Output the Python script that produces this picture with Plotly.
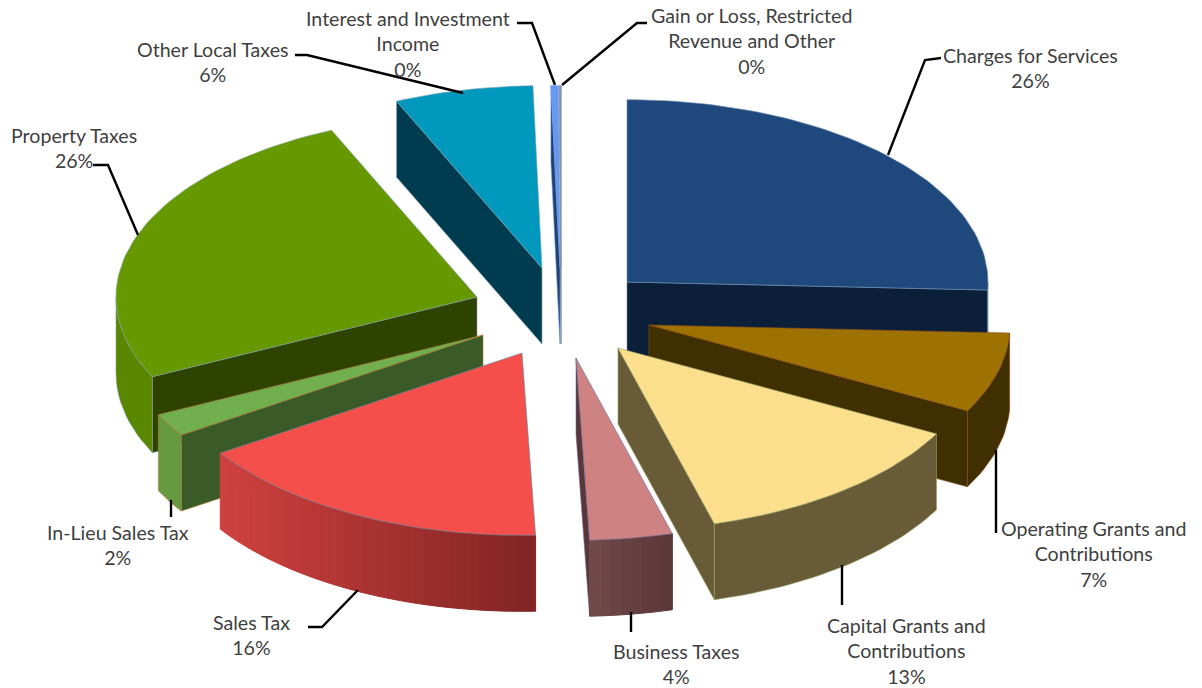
import math
import plotly.graph_objects as go

# ---- data ----
categories = ["Charges for Services", "Operating Grants and Contributions",
              "Capital Grants and Contributions", "Business Taxes", "Sales Tax",
              "In-Lieu Sales Tax", "Property Taxes", "Other Local Taxes",
              "Interest and Investment Income",
              "Gain or Loss, Restricted Revenue and Other"]
values = [25.7, 7.1, 12.9, 3.7, 16.35, 2.05, 25.6, 6.2, 0.33, 0.07]

# ---- layout & style (pixels of the 1202x688 canvas) ----
W, H = 1202, 688
RADIUS, TILT, DEPTH = 361, 0.505, 76
apex_x = [627, 649, 618, 576, 522, 483, 477, 542, 560, 561]
apex_y = [282, 325, 348, 358, 353, 335, 297, 268, 268, 268]
top_col = ["#1F497D", "#9E7200", "#FBDF8C", "#CE8282", "#F44F4B", "#71AE4D", "#669900", "#0098BD", "#6699EE", "#7F93B5"]
cut_col = ["#0C1F38", "#402F00", "#695B38", "#5A3636", "#7F2424", "#3A5A28", "#2F4300", "#003C4F", "#24406E", "#4A4A4A"]
wall_a = ["#16345A", "#402F00", "#695B38", "#724A4A", "#CF413E", "#669A41", "#5A8700", "#006A85", "#24406E", "#4A4A4A"]
wall_b = ["#16345A", "#402F00", "#695B38", "#593636", "#7F2424", "#669A41", "#5A8700", "#006A85", "#24406E", "#4A4A4A"]
edge_col = ["#6F8FB5", "#8A4A20", "#8FA060", "#6A6A9A", "#5F8AA0", "#B07A40", "#7FA0A0", "#7FA0B0", "#6699EE", "#7F93B5"]
paint_order = [7, 8, 9, 0, 6, 5, 1, 4, 3, 2]
label_pos = {0: (1030, 68), 1: (1093, 554), 2: (906, 651), 3: (676, 664), 4: (251, 635),
             5: (118, 545), 6: (74, 148), 7: (213, 62), 8: (408, 44), 9: (751, 41)}
label_lines = {1: "Operating Grants and<br>Contributions", 2: "Capital Grants and<br>Contributions",
               8: "Interest and Investment<br>Income", 9: "Gain or Loss, Restricted<br>Revenue and Other"}
leaders = [[(888, 155), (925, 60), (941, 58)], [(996, 450), (996, 533)], [(842, 565), (842, 605)],
           [(631, 612), (631, 632)], [(358, 590), (322, 627), (308, 627)], [(171, 500), (171, 517)],
           [(138, 235), (108, 165), (93, 165)], [(463, 93), (307, 55), (295, 55)],
           [(555, 85), (532, 23), (517, 23)], [(562, 85), (637, 23), (647, 23)]]
FONT = "Lato, Carlito, Calibri, sans-serif"
TEXT_COL = "#3F3F3F"


def mix(a, b, t):
    ca = [int(a[i:i + 2], 16) for i in (1, 3, 5)]
    cb = [int(b[i:i + 2], 16) for i in (1, 3, 5)]
    return "#%02X%02X%02X" % tuple(round(p + (q - p) * t) for p, q in zip(ca, cb))


def project(i, deg, r=RADIUS, drop=0):
    a = math.radians(deg)
    return apex_x[i] + r * math.sin(a), apex_y[i] - r * TILT * math.cos(a) + drop


fig = go.Figure()


def poly(pts, fill, line=None, w=0.6):
    xs = [p[0] for p in pts] + [pts[0][0]]
    ys = [p[1] for p in pts] + [pts[0][1]]
    fig.add_trace(go.Scatter(x=xs, y=ys, mode="lines", fill="toself", fillcolor=fill,
                             line=dict(color=line or fill, width=w), hoverinfo="skip", showlegend=False))


total = sum(values)
starts, acc = [], 0.0
for v in values:
    starts.append(acc / total * 360)
    acc += v

for i in paint_order:
    a0 = starts[i]
    a1 = a0 + values[i] / total * 360
    apex = project(i, 0, 0)
    apex_low = project(i, 0, 0, DEPTH)
    # radial cut faces seen from the front
    if math.sin(math.radians(a1)) > 0:
        poly([apex, project(i, a1), project(i, a1, drop=DEPTH), apex_low], cut_col[i], edge_col[i])
    if math.sin(math.radians(a0)) < 0:
        poly([apex, project(i, a0), project(i, a0, drop=DEPTH), apex_low], cut_col[i], edge_col[i])
    # outer wall, front half only
    lo, hi = max(a0, 90), min(a1, 270)
    if hi > lo:
        n = max(4, int((hi - lo) / 1.5))
        ang = [lo + (hi - lo) * k / n for k in range(n + 1)]
        if wall_a[i] == wall_b[i]:
            poly([project(i, a) for a in ang] + [project(i, a, drop=DEPTH) for a in reversed(ang)],
                 wall_a[i], edge_col[i])
        else:
            # narrow strips so that the gradient can run left to right across the slice
            ends = [project(i, lo)[0], project(i, hi)[0]]
            for p, q in zip(ang, ang[1:]):
                t = (project(i, (p + q) / 2)[0] - min(ends)) / max(1e-6, max(ends) - min(ends))
                c = mix(wall_a[i], wall_b[i], t)
                poly([project(i, p), project(i, q), project(i, q, drop=DEPTH), project(i, p, drop=DEPTH)], c, c, 1)
    # top face
    steps = max(2, int((a1 - a0) / 1.5))
    rim = [project(i, a0 + (a1 - a0) * k / steps) for k in range(steps + 1)]
    poly([apex] + rim, top_col[i], edge_col[i])

for path in leaders:
    fig.add_trace(go.Scatter(x=[p[0] for p in path], y=[p[1] for p in path], mode="lines",
                             line=dict(color="#000000", width=2.4), hoverinfo="skip", showlegend=False))

for i, name in enumerate(categories):
    text = label_lines.get(i, name) + "<br>%d%%" % round(values[i])
    x, y = label_pos[i]
    fig.add_annotation(x=x, y=y, text=text, showarrow=False, xanchor="center", yanchor="middle",
                       align="center", font=dict(family=FONT, size=19.6, color=TEXT_COL))

fig.update_layout(width=W, height=H, margin=dict(l=0, r=0, t=0, b=0), paper_bgcolor="white",
                  plot_bgcolor="white", showlegend=False,
                  xaxis=dict(range=[0, W], visible=False, fixedrange=True),
                  yaxis=dict(range=[H, 0], visible=False, fixedrange=True))
fig.write_html("out.html", config={"displayModeBar": False},
               post_script="document.body.style.margin='0';document.documentElement.style.overflow='hidden';")
